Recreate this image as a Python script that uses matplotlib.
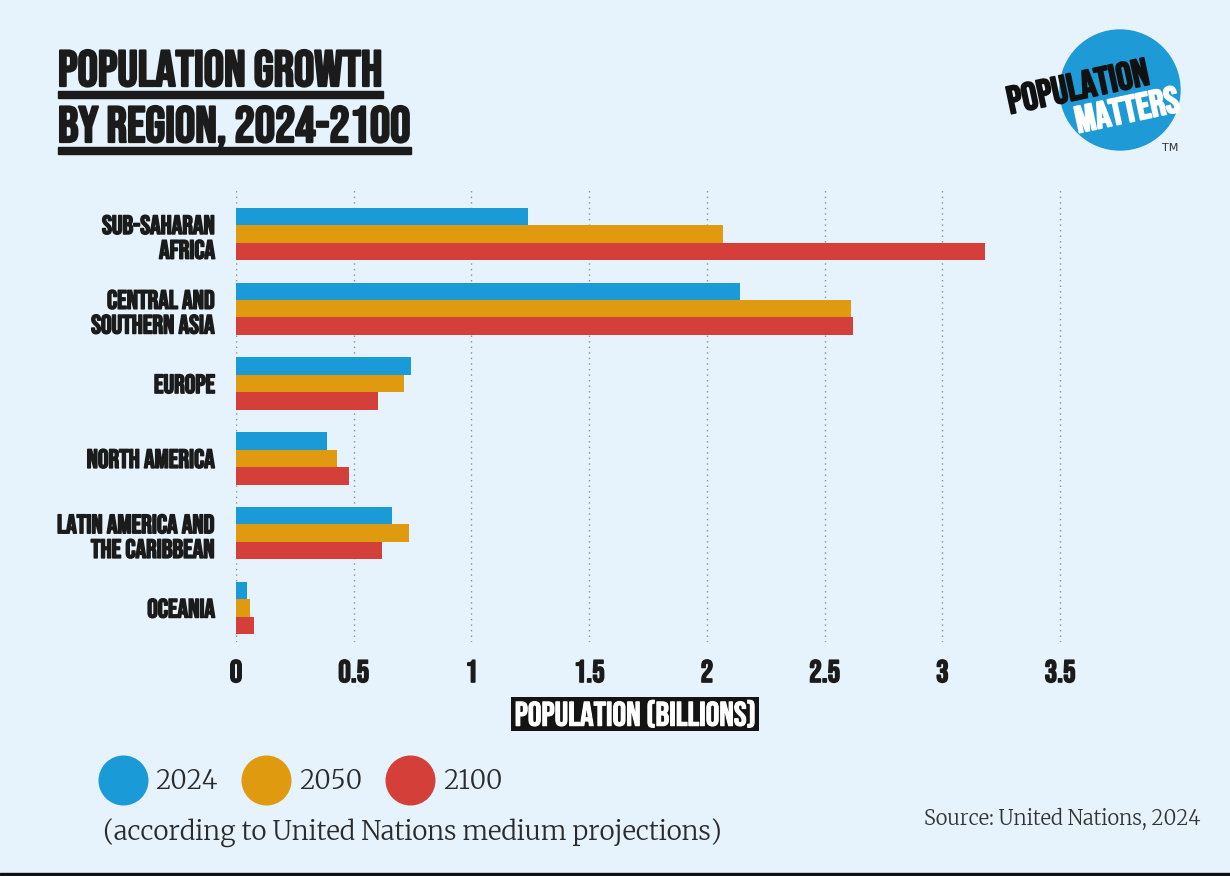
import matplotlib
matplotlib.use("Agg")
import matplotlib.pyplot as plt
import matplotlib.patheffects as pe
from matplotlib.patches import Circle, Rectangle
from matplotlib.lines import Line2D
import numpy as np

# данные (млрд человек)
regions = ["SUB-SAHARAN\nAFRICA", "CENTRAL AND\nSOUTHERN ASIA", "EUROPE",
           "NORTH AMERICA", "LATIN AMERICA AND\nTHE CARIBBEAN", "OCEANIA"]
years = ["2024", "2050", "2100"]
pop_2024 = [1.24, 2.14, 0.745, 0.385, 0.662, 0.046]
pop_2050 = [2.07, 2.61, 0.713, 0.428, 0.735, 0.058]
pop_2100 = [3.18, 2.62, 0.602, 0.478, 0.620, 0.075]
xticks = [0, 0.5, 1, 1.5, 2, 2.5, 3, 3.5]
xtick_labels = ["0", "0.5", "1", "1.5", "2", "2.5", "3", "3.5"]

colors = ["#1A9AD6", "#E09A10", "#D43F3A"]
bg = "#E6F3FC"
ink = "#1B1B1B"
COND = ["Bebas Neue", "League Gothic", "DejaVu Sans"]
SERIF = ["Merriweather", "DejaVu Serif"]
thick = [pe.withStroke(linewidth=1.1, foreground=ink)]

W, H = 1230, 876
fig = plt.figure(figsize=(W / 100, H / 100), dpi=100, facecolor=bg)

# оси: 0 на x=236, 3.5 на x=1061, сетка от y=190 до y=642
ax = fig.add_axes([236 / W, 1 - 642 / H, (1119 - 236) / W, (642 - 190) / H])
ax.set_facecolor(bg)
y = np.arange(len(regions))
bh = 0.233
for k, vals in enumerate([pop_2024, pop_2050, pop_2100]):
    ax.barh(y + (k - 1) * bh, vals, height=bh, color=colors[k], zorder=3, label=years[k])

ax.set_xlim(0, 3.75)
ax.set_ylim(5.455, -0.588)
ax.set_xticks(xticks)
ax.set_xticklabels(xtick_labels)
ax.set_yticks(y)
ax.set_yticklabels(regions)
ax.tick_params(axis="both", length=0)
ax.tick_params(axis="x", pad=13)
ax.tick_params(axis="y", pad=15)
for lab in ax.get_xticklabels():
    lab.set_family(COND)
    lab.set_fontsize(22.5)
    lab.set_color(ink)
    lab.set_path_effects(thick)
for lab in ax.get_yticklabels():
    lab.set_family(COND)
    lab.set_fontsize(19)
    lab.set_color(ink)
    lab.set_linespacing(1.3)
    lab.set_path_effects(thick)
ax.grid(axis="x", linestyle=(0, (1, 3)), color="#8A8F94", linewidth=1, zorder=0)
ax.grid(axis="y", visible=False)
for s in ax.spines.values():
    s.set_visible(False)

ax.set_xlabel("POPULATION (BILLIONS)", family=COND, fontsize=24.5, color="white", va="center",
              bbox=dict(boxstyle="square,pad=0.1", facecolor="#141414", edgecolor="none"),
              path_effects=[pe.withStroke(linewidth=0.8, foreground="white")])
ax.xaxis.set_label_coords((635 - 236) / (1119 - 236), (162 - 234) / 452)

# заголовок с подчёркиванием
t1 = fig.text(58 / W, 1 - 86 / H, "POPULATION GROWTH", family=COND, fontsize=36.5,
              color=ink, va="baseline", path_effects=[pe.withStroke(linewidth=1.6, foreground=ink)])
t2 = fig.text(58 / W, 1 - 142 / H, "BY REGION, 2024-2100", family=COND, fontsize=36.5,
              color=ink, va="baseline", path_effects=[pe.withStroke(linewidth=1.6, foreground=ink)])
fig.canvas.draw()
r = fig.canvas.get_renderer()
for t, top in [(t1, 91), (t2, 147)]:
    bb = t.get_window_extent(r)
    fig.patches.append(Rectangle((bb.x0 / W, 1 - (top + 6.5) / H), bb.width / W, 6.5 / H,
                                 transform=fig.transFigure, color=ink))

# логотип
fig.patches.append(Circle((11.20, (H - 90) / 100), 0.60, transform=fig.dpi_scale_trans,
                          color="#1E9AD7", zorder=1))
fig.text(1010 / W, 1 - 114 / H, "POPULATION", family=COND, fontsize=28, color="#111111",
         rotation=12, rotation_mode="anchor", ha="left", va="baseline", zorder=2,
         path_effects=[pe.withStroke(linewidth=1.3, foreground="#111111")])
fig.text(1078 / W, 1 - 133 / H, "MATTERS", family=COND, fontsize=27, color="white",
         rotation=12, rotation_mode="anchor", ha="left", va="baseline", zorder=2,
         path_effects=[pe.withStroke(linewidth=1.3, foreground="white")])
fig.text(1170 / W, 1 - 148 / H, "TM", family="DejaVu Sans", fontsize=8, color="#333333",
         ha="center", va="center")

# легенда
handles = [Line2D([], [], marker="o", linestyle="none", markersize=35, color=c) for c in colors]
leg = fig.legend(handles, years, loc="center left", bbox_to_anchor=(99 / W, 1 - 781 / H),
                 ncol=3, frameon=False, borderpad=0, borderaxespad=0, handlelength=1.85,
                 handletextpad=0.35, columnspacing=0.95, prop={"family": SERIF, "size": 18.5})
for txt in leg.get_texts():
    txt.set_color("#2B2B2B")

fig.text(103 / W, 1 - 833 / H, "(according to United Nations medium projections)",
         family=SERIF, fontsize=18.7, color="#2B2B2B", va="center")
fig.text(1201 / W, 1 - 819 / H, "Source: United Nations, 2024", family=SERIF, fontsize=14.5,
         color="#333333", ha="right", va="center")

fig.patches.append(Rectangle((0, 0), 1, 3 / H, transform=fig.transFigure, color="#111111"))

fig.savefig("out.png", dpi=100, facecolor=bg)
